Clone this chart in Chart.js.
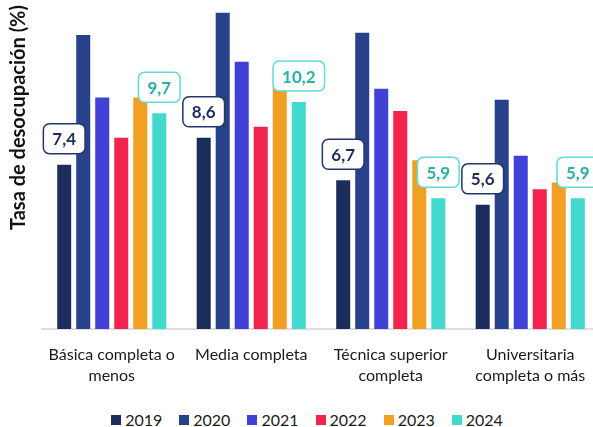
<!DOCTYPE html>
<html lang="es">
<head>
<meta charset="utf-8">
<title>Tasa de desocupación por nivel educativo</title>
<script src="https://cdn.jsdelivr.net/npm/chart.js@4.4.1/dist/chart.umd.min.js"></script>
<style>
  html, body { margin: 0; padding: 0; background: #fff; overflow: hidden; }
  #wrap { position: relative; width: 607px; height: 427px; }
  #chartBox { position: absolute; left: 0; top: 0; width: 607px; height: 400px; }
  #leyenda {
    position: absolute; left: 0; top: 412px; width: 614px;
    display: flex; justify-content: center; gap: 17px;
    font: 16px/16px Lato, sans-serif; color: #1a1a1a;
  }
  #leyenda .item { display: flex; align-items: center; }
  #leyenda .cuadro { width: 10px; height: 10px; margin-right: 4px; }
</style>
</head>
<body>
<div id="wrap">
  <div id="chartBox"><canvas id="desocupacionChart"></canvas></div>
  <div id="leyenda"></div>
</div>
<script>
// ========================================
// DATOS
// ========================================

const categorias = [
  ['Básica completa o', 'menos'],
  'Media completa',
  ['Técnica superior', 'completa'],
  ['Universitaria', 'completa o más']
];

const anios = ['2019', '2020', '2021', '2022', '2023', '2024'];

const valores2019 = [7.4, 8.6, 6.7, 5.6];
const valores2020 = [13.2, 14.2, 13.3, 10.3];
const valores2021 = [10.4, 12.0, 10.8, 7.8];
const valores2022 = [8.6, 9.1, 9.8, 6.3];
const valores2023 = [10.4, 10.9, 7.6, 6.6];
const valores2024 = [9.7, 10.2, 5.9, 5.9];

const series = [valores2019, valores2020, valores2021, valores2022, valores2023, valores2024];

const colores = ['#1c2d5c', '#27418a', '#4141d8', '#f2234f', '#f2a024', '#42d9cf'];

// Series que llevan etiqueta con el valor (2019 y 2024)
const etiquetas = {
  0: { borde: '#25366a', texto: '#1c2d5c' },
  5: { borde: '#5fdcd5', texto: '#2ab0a6' }
};

// Formato con coma decimal
function formatoComa(v) {
  return v.toFixed(1).replace('.', ',');
}

// ========================================
// PLUGIN: cajas con el valor sobre las barras
// ========================================
const etiquetasPlugin = {
  id: 'etiquetasValor',
  afterDatasetsDraw(chart) {
    const ctx = chart.ctx;
    ctx.save();
    ctx.font = 'bold 17px Lato, sans-serif';
    ctx.textAlign = 'center';
    ctx.textBaseline = 'middle';
    chart.data.datasets.forEach((ds, i) => {
      const estilo = etiquetas[i];
      if (!estilo) return;
      const meta = chart.getDatasetMeta(i);
      meta.data.forEach((bar, j) => {
        const txt = formatoComa(ds.data[j]);
        const w = ctx.measureText(txt).width + 18;
        const h = 30;
        const x = bar.x - w / 2;
        const y = bar.y - 10 - h;
        ctx.beginPath();
        ctx.roundRect(x, y, w, h, 6);
        ctx.fillStyle = '#fff';
        ctx.fill();
        ctx.lineWidth = 1.5;
        ctx.strokeStyle = estilo.borde;
        ctx.stroke();
        ctx.fillStyle = estilo.texto;
        ctx.fillText(txt, bar.x, y + h / 2 + 1);
      });
    });
    ctx.restore();
  }
};

// ========================================
// GRÁFICO
// ========================================
const ctx = document.getElementById('desocupacionChart');

const chart = new Chart(ctx, {
  type: 'bar',
  data: {
    labels: categorias,
    datasets: anios.map((anio, i) => ({
      label: anio,
      data: series[i],
      backgroundColor: colores[i],
      borderColor: 'rgba(255, 255, 255, 0.35)',
      borderWidth: 1,
      categoryPercentage: 0.818,
      barPercentage: 0.842
    }))
  },
  options: {
    responsive: true,
    maintainAspectRatio: false,
    animation: false,
    layout: {
      padding: { top: 5, right: 7, left: 0, bottom: 0 }
    },
    plugins: {
      legend: { display: false },
      tooltip: { enabled: false }
    },
    scales: {
      x: {
        grid: { display: false, drawTicks: false },
        border: { display: true, color: '#dedede', width: 2 },
        ticks: {
          color: '#1a1a1a',
          padding: 15,
          font: { family: 'Lato', size: 16, lineHeight: 1.34 },
          maxRotation: 0,
          autoSkip: false
        },
        afterFit: function(scale) {
          scale.height = 71;
        }
      },
      y: {
        min: 0,
        max: 14.5,
        grid: { display: false },
        border: { display: false },
        ticks: { display: false },
        title: {
          display: true,
          text: 'Tasa de desocupación (%)',
          align: 'end',
          color: '#111',
          padding: { top: 7, bottom: 0 },
          font: { family: 'Lato', size: 20, weight: 'bold', lineHeight: 1.2 }
        },
        afterFit: function(scale) {
          scale.width = 42;
        }
      }
    }
  },
  plugins: [etiquetasPlugin]
});

// Leyenda en HTML a partir de los datasets
document.getElementById('leyenda').innerHTML = chart.data.datasets.map(ds => `
  <div class="item"><span class="cuadro" style="background:${ds.backgroundColor}"></span>${ds.label}</div>
`).join('');
</script>
</body>
</html>
